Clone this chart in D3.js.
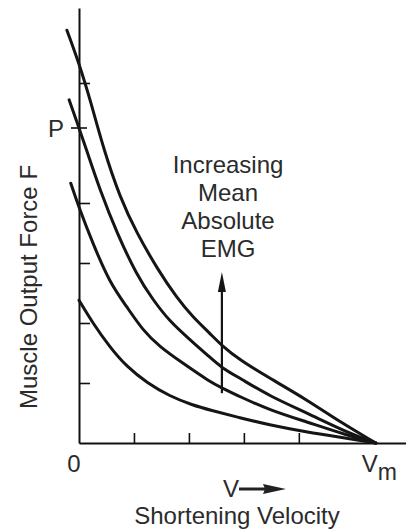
<!DOCTYPE html>
<html>
<head>
<meta charset="utf-8">
<script src="https://cdn.jsdelivr.net/npm/d3@7"></script>
<style>
  html, body { margin: 0; padding: 0; background: #fff; }
  svg text { font-family: "Liberation Sans", Arial, sans-serif; fill: #2b2b2b; }
</style>
</head>
<body>
<div id="chart"></div>
<script>
// force-velocity curves (V in tick units, F in tick units)
let curveTop = [[-0.22, 6.88], [0, 6.33], [0.22, 5.67], [0.44, 4.92], [0.75, 4.08], [1.05, 3.50], [1.44, 2.88],
    [1.78, 2.42], [2.07, 2.10], [2.38, 1.83], [2.60, 1.62], [2.93, 1.38], [3.47, 1.08], [4.15, 0.72], [4.75, 0.35], [5.40, 0]];
let curveSecond = [[-0.18, 5.72], [0, 5.25], [0.15, 4.85], [0.38, 4.22], [0.69, 3.50], [1.05, 2.80], [1.35, 2.38],
    [1.65, 2.03], [1.96, 1.77], [2.38, 1.43], [2.60, 1.25], [2.93, 1.08], [3.47, 0.78], [4.15, 0.50], [4.87, 0.18], [5.40, 0]];
let curveThird = [[-0.15, 4.33], [0, 3.92], [0.25, 3.33], [0.56, 2.67], [0.87, 2.27], [1.16, 1.88], [1.47, 1.60],
    [1.89, 1.33], [2.38, 1.02], [2.60, 0.92], [2.93, 0.77], [3.47, 0.55], [4.15, 0.35], [4.87, 0.13], [5.40, 0]];
let curveBottom = [[0, 2.38], [0.25, 2.00], [0.56, 1.60], [0.87, 1.27], [1.24, 1.00], [1.65, 0.78], [2.07, 0.63],
    [2.38, 0.55], [2.93, 0.42], [3.47, 0.30], [4.15, 0.18], [4.87, 0.08], [5.40, 0]];

let curves = [curveTop, curveSecond, curveThird, curveBottom];

let xTicks = [1, 2, 3, 4];
let yTicks = [1, 2, 3, 4, 6];
let pForce = 5.25;        // "P" mark on the force axis
let vMax = 5.40;          // V_m
let emgArrow = {v: 2.60, from: 0.83, to: 2.85};
let emgLabel = ["Increasing", "Mean", "Absolute", "EMG"];

let width = 406, height = 532;
let margin = {top: 8, left: 79, bottom: 89};

let svg = d3.select("#chart").append("svg")
    .attr("width", width)
    .attr("height", height);

let x = d3.scaleLinear().domain([0, 5.95]).range([margin.left, width]);
let y = d3.scaleLinear().domain([0, 7.25]).range([height - margin.bottom, margin.top]);

// axes, ticks pointing inward
let xAxis = svg.append("g")
    .attr("transform", `translate(0, ${y(0)})`)
    .call(d3.axisBottom(x).tickValues(xTicks).tickFormat("").tickSizeInner(-10).tickSizeOuter(0));

let yAxis = svg.append("g")
    .attr("transform", `translate(${x(0)}, 0)`)
    .call(d3.axisLeft(y).tickValues(yTicks).tickFormat("").tickSizeInner(-11).tickSizeOuter(0));

[xAxis, yAxis].forEach(g => {
    g.select(".domain").attr("stroke", "#111").attr("stroke-width", 2);
    g.selectAll(".tick line").attr("stroke", "#111").attr("stroke-width", 1.6);
});

// P tick crosses the axis
svg.append("line")
    .attr("x1", x(0) - 8).attr("x2", x(0) + 8)
    .attr("y1", y(pForce)).attr("y2", y(pForce))
    .attr("stroke", "#111").attr("stroke-width", 1.6);

// curves
let line = d3.line()
    .x(d => x(d[0]))
    .y(d => y(d[1]))
    .curve(d3.curveBasis);

svg.append("g").selectAll("path")
    .data(curves)
    .enter().append("path")
    .attr("d", line)
    .attr("fill", "none")
    .attr("stroke", "#151515")
    .attr("stroke-width", 3)
    .attr("stroke-linecap", "round");

// EMG arrow
let ax = x(emgArrow.v);
svg.append("line")
    .attr("x1", ax).attr("x2", ax)
    .attr("y1", y(emgArrow.from)).attr("y2", y(emgArrow.to) + 10)
    .attr("stroke", "#151515").attr("stroke-width", 2.2);
svg.append("path")
    .attr("d", `M${ax},${y(emgArrow.to)} L${ax - 4},${y(emgArrow.to) + 20} L${ax + 4},${y(emgArrow.to) + 20} Z`)
    .attr("fill", "#151515");

svg.append("text")
    .attr("text-anchor", "middle")
    .attr("font-size", 24)
    .selectAll("tspan")
    .data(emgLabel)
    .enter().append("tspan")
    .attr("x", 228)
    .attr("y", (d, i) => 173 + i * 28)
    .text(d => d);

// labels
svg.append("text")
    .attr("x", x(0) - 15).attr("y", y(pForce) + 9)
    .attr("text-anchor", "end")
    .attr("font-size", 24)
    .text("P");

svg.append("text")
    .attr("x", x(0) - 5).attr("y", 472)
    .attr("text-anchor", "middle")
    .attr("font-size", 24)
    .text("0");

let vm = svg.append("text")
    .attr("x", x(vMax) - 14).attr("y", 472)
    .attr("font-size", 24);
vm.append("tspan").text("V");
vm.append("tspan").attr("dy", 8).attr("font-size", 23).text("m");

svg.append("text")
    .attr("x", 223).attr("y", 497)
    .attr("font-size", 24)
    .text("V");
svg.append("line")
    .attr("x1", 239).attr("x2", 272)
    .attr("y1", 489).attr("y2", 489)
    .attr("stroke", "#222").attr("stroke-width", 3);
svg.append("path")
    .attr("d", "M286,489 L263,484 L265,489 L263,494 Z")
    .attr("fill", "#222");

svg.append("text")
    .attr("x", 237).attr("y", 524)
    .attr("text-anchor", "middle")
    .attr("font-size", 24)
    .text("Shortening Velocity");

svg.append("text")
    .attr("transform", `translate(37, 287) rotate(-90)`)
    .attr("text-anchor", "middle")
    .attr("font-size", 24)
    .text("Muscle Output Force F");
</script>
</body>
</html>
